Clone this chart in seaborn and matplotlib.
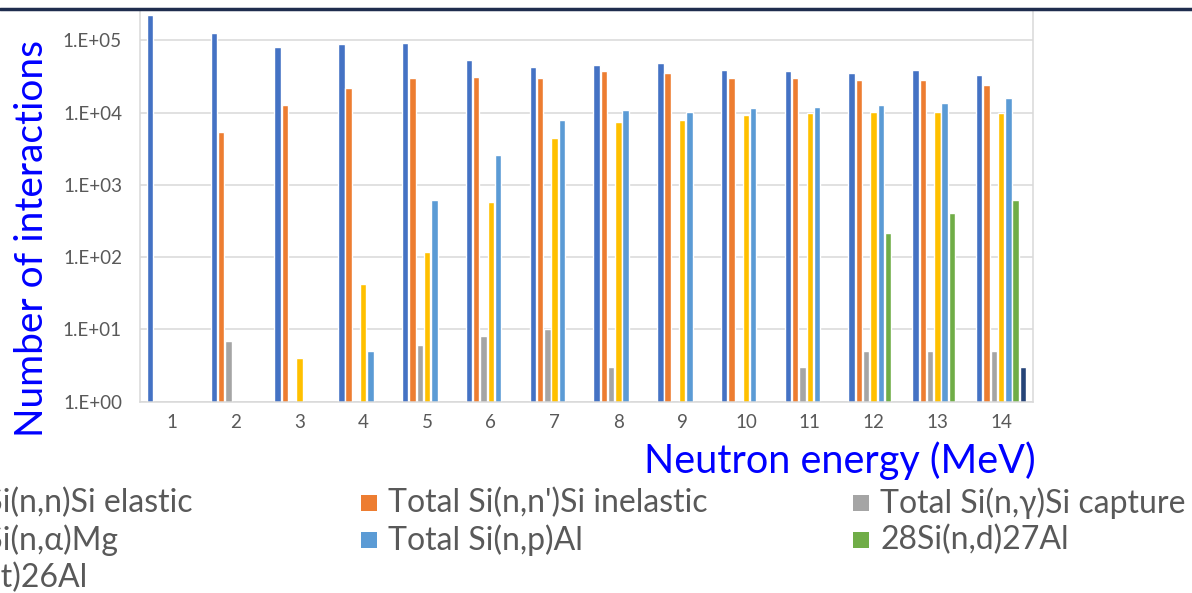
import numpy as np
import pandas as pd
import matplotlib
matplotlib.use("Agg")
import matplotlib.pyplot as plt
from matplotlib.lines import Line2D
from matplotlib.patches import Rectangle
from matplotlib.ticker import FixedLocator, FuncFormatter, NullLocator
import seaborn as sns

nan = np.nan

# Neutron energies (MeV) and interaction counts per reaction channel
energies = list(range(1, 15))
elastic = [2.2e5, 1.25e5, 8.1e4, 8.8e4, 9.1e4, 5.3e4, 4.3e4, 4.6e4, 4.8e4, 3.9e4, 3.7e4, 3.5e4, 3.9e4, 3.3e4]
inelastic = [nan, 5.4e3, 1.27e4, 2.15e4, 3.0e4, 3.1e4, 3.0e4, 3.7e4, 3.5e4, 3.0e4, 3.0e4, 2.8e4, 2.8e4, 2.4e4]
capture = [nan, 7, nan, nan, 6, 8, 10, 3, nan, nan, 3, 5, 5, 5]
n_alpha = [nan, nan, 4, 43, 119, 585, 4.4e3, 7.4e3, 7.9e3, 9.3e3, 9.8e3, 1.02e4, 1.02e4, 9.8e3]
n_proton = [nan, nan, nan, 5, 613, 2.6e3, 7.9e3, 1.08e4, 1.02e4, 1.14e4, 1.2e4, 1.26e4, 1.35e4, 1.58e4]
n_deuteron = [nan] * 11 + [214, 405, 613]
n_triton = [nan] * 13 + [3]

labels = [
    "Total Si(n,n)Si elastic",
    "Total Si(n,n')Si inelastic",
    "Total Si(n,\u03b3)Si capture",
    "Total Si(n,\u03b1)Mg",
    "Total Si(n,p)Al",
    "28Si(n,d)27Al",
    "28Si(n,t)26Al",
]
colors = ["#4472C4", "#ED7D31", "#A5A5A5", "#FFC000", "#5B9BD5", "#70AD47", "#264478"]
series = [elastic, inelastic, capture, n_alpha, n_proton, n_deuteron, n_triton]

yticks = [1, 10, 100, 1e3, 1e4, 1e5]

# Long-form table for seaborn
rows = []
for lab, vals in zip(labels, series):
    for e, v in zip(energies, vals):
        if not np.isnan(v):
            rows.append({"energy": e, "count": v, "reaction": lab})
df = pd.DataFrame(rows)

sns.set_theme(style="white")
plt.rcParams["font.family"] = ["Lato", "DejaVu Sans"]

W, H = 1192, 593
fig = plt.figure(figsize=(W / 100, H / 100), dpi=100)
fig.patch.set_facecolor("white")

def fx(px):
    return px / W

def fy(py):
    return 1 - py / H

ax_left, ax_right, ax_top, ax_bottom = 140, 1033, 10, 401.7
ax = fig.add_axes([fx(ax_left), fy(ax_bottom), fx(ax_right - ax_left), (ax_bottom - ax_top) / H])

sns.barplot(
    data=df, x="energy", y="count", hue="reaction",
    order=energies, hue_order=labels, palette=colors,
    width=0.8, gap=0.12, log_scale=True, errorbar=None,
    legend=False, ax=ax, saturation=1,
)

ax.set_yscale("log")
ax.set_ylim(1, 10 ** ((ax_bottom - ax_top) / 72.3))
ax.yaxis.set_major_locator(FixedLocator(yticks))
ax.yaxis.set_minor_locator(NullLocator())
ax.yaxis.set_major_formatter(FuncFormatter(lambda v, _: "1.E+%02d" % int(round(np.log10(v)))))
ax.grid(axis="y", color="#D9D9D9", lw=1.1)
ax.set_axisbelow(True)
ax.tick_params(axis="both", length=0, colors="#595959", labelsize=13.5)
ax.tick_params(axis="y", pad=13)
ax.tick_params(axis="x", pad=9)
for side in ["left", "right", "bottom"]:
    ax.spines[side].set_color("#D9D9D9")
    ax.spines[side].set_linewidth(1.1)
ax.spines["top"].set_visible(False)
ax.set_xlabel("")
ax.set_ylabel("")

# Axis titles
fig.text(fx(32), fy(238), "Number of interactions", rotation=90, color="#0000FF",
         fontsize=28, ha="center", va="center")
fig.text(fx(1036), fy(461), "Neutron energy (MeV)", color="#0000FF",
         fontsize=28.5, ha="right", va="center")

# Legend laid out in three columns; the first column runs past the left edge
leg_size = 23
renderer = fig.canvas.get_renderer()
probe = fig.text(0, 0, labels[0], fontsize=leg_size)
first_w = probe.get_window_extent(renderer).width
probe.remove()
first_text_x = 193 - first_w

col_text_x = [first_text_x, 388, 880]
row_y = [503, 540, 578]
for i, (lab, col) in enumerate(zip(labels, colors)):
    c, r = i % 3, i // 3
    tx, y0 = col_text_x[c], row_y[r]
    fig.patches.append(Rectangle((fx(tx - 27), fy(y0 + 8)), fx(16), 16 / H,
                                 transform=fig.transFigure, facecolor=col,
                                 edgecolor="none", figure=fig))
    fig.text(fx(tx), fy(y0), lab, color="#595959", fontsize=leg_size,
             ha="left", va="center")

# Header rule across the top
fig.add_artist(Line2D([0, 1], [fy(8.5), fy(8.5)], color="#1F2D4E", lw=2.5,
                      transform=fig.transFigure))

fig.savefig("out.png", dpi=100)
